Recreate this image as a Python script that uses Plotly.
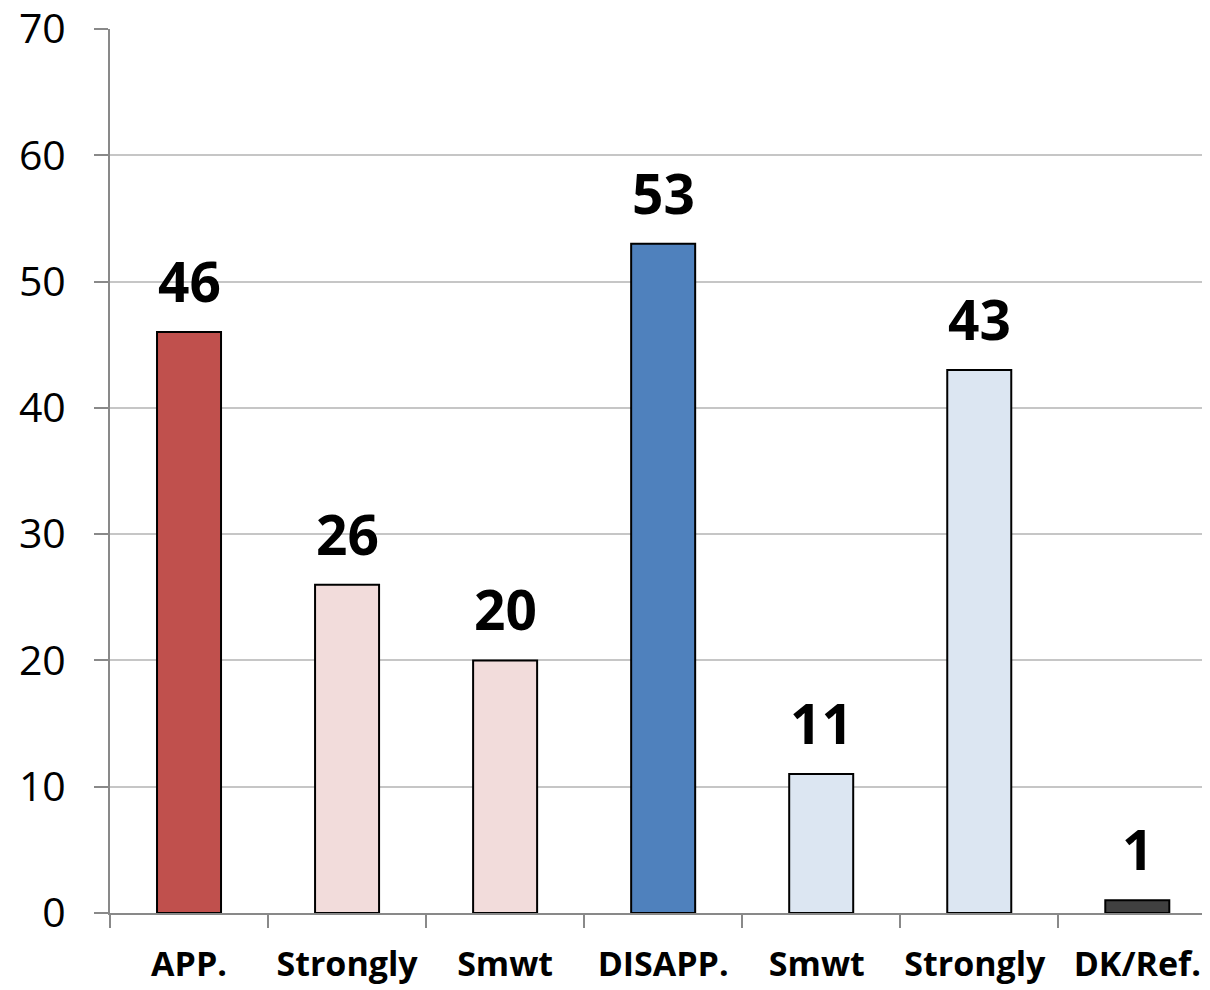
import plotly.graph_objects as go

categories = ["APP.", "Strongly", "Smwt", "DISAPP.", "Smwt ", "Strongly ", "DK/Ref."]
values = [46, 26, 20, 53, 11, 43, 1]
bar_colors = ["#C0504D", "#F2DCDB", "#F2DCDB", "#4F81BD", "#DCE6F2", "#DCE6F2", "#404040"]
y_ticks = [0, 10, 20, 30, 40, 50, 60, 70]

fig = go.Figure()
fig.add_trace(go.Bar(
    x=categories, y=values,
    marker=dict(color=bar_colors, line=dict(color="#000000", width=2)),
    width=0.405,
))

for c, v in zip(categories, values):
    fig.add_annotation(x=c, y=v, text=f"<b>{v}</b>", showarrow=False,
                       yanchor="bottom", yshift=12,
                       font=dict(family="Open Sans", size=55, color="#000000"))

fig.update_layout(
    width=1202, height=982,
    margin=dict(l=102, r=0, t=21, b=77),
    paper_bgcolor="white", plot_bgcolor="white",
    showlegend=False,
)
fig.update_xaxes(
    type="category",
    range=[-0.5, 6.46],
    automargin=False,
    tickangle=0,
    showline=True, linecolor="#898989", linewidth=2,
    ticks="outside", tickson="boundaries", ticklen=13, tickwidth=2, tickcolor="#898989",
    tickfont=dict(family="Open Sans", size=34, color="#000000", weight="bold"),
    ticklabelstandoff=20,
    ticklabeloverflow="allow",
    showgrid=False,
)
fig.update_yaxes(
    range=[0, 70], tickvals=y_ticks,
    automargin=False,
    showline=True, linecolor="#898989", linewidth=2,
    ticks="outside", ticklen=14, tickwidth=2, tickcolor="#898989",
    showgrid=True, gridcolor="#C6C6C6", gridwidth=2,
    zeroline=False,
    tickfont=dict(family="Open Sans", size=41, color="#000000"),
    ticklabelstandoff=20,
    ticklabeloverflow="allow",
)

fig.write_html("out.html")
